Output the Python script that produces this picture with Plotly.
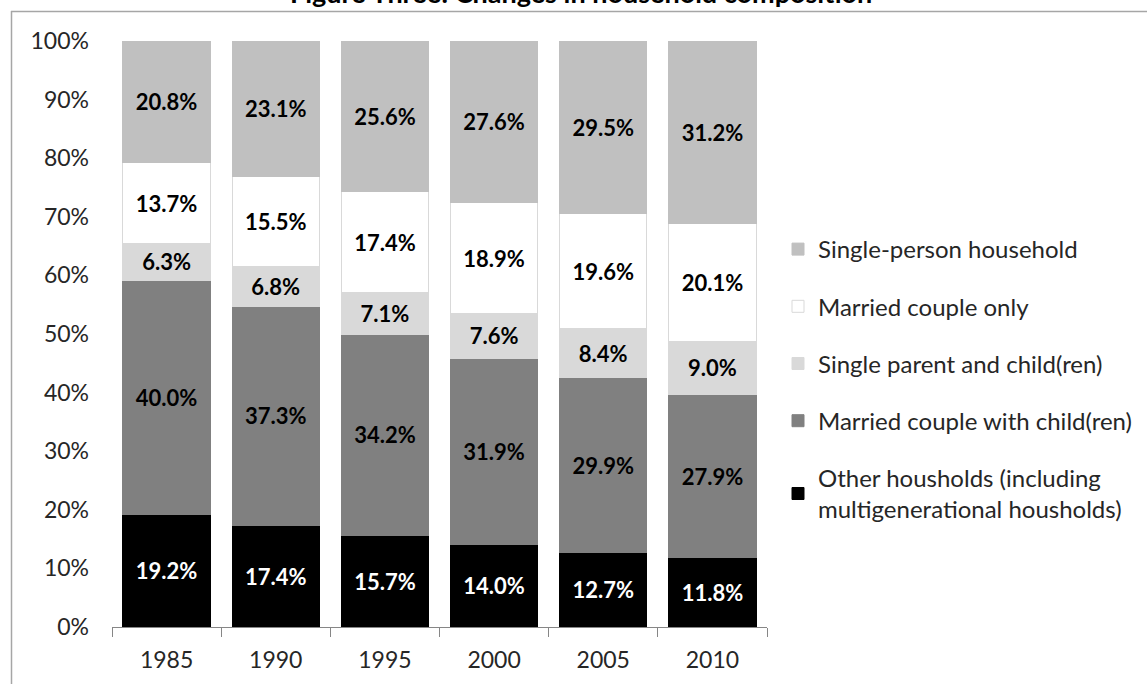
import plotly.graph_objects as go

# Household composition shares by survey year (%)
years = ["1985", "1990", "1995", "2000", "2005", "2010"]
other_households = [19.2, 17.4, 15.7, 14.0, 12.7, 11.8]
couple_with_children = [40.0, 37.3, 34.2, 31.9, 29.9, 27.9]
single_parent = [6.3, 6.8, 7.1, 7.6, 8.4, 9.0]
couple_only = [13.7, 15.5, 17.4, 18.9, 19.6, 20.1]
single_person = [20.8, 23.1, 25.6, 27.6, 29.5, 31.2]

# stacked bottom-up: (name, values, fill, label colour, outline)
series = [
    ("Other housholds (including<br>multigenerational housholds)", other_households, "#000000", "#ffffff", "#000000"),
    ("Married couple with child(ren)", couple_with_children, "#808080", "#000000", "#808080"),
    ("Single parent and child(ren)", single_parent, "#d9d9d9", "#000000", "#d9d9d9"),
    ("Married couple only", couple_only, "#ffffff", "#000000", "#d9d9d9"),
    ("Single-person household", single_person, "#c0c0c0", "#000000", "#c0c0c0"),
]

FONT = "Lato"
W, H = 1147, 684
ML, MR, MT, MB = 112, 380, 41, 57
PW, PH = W - ML - MR, H - MT - MB

fig = go.Figure()
for i, (name, vals, color, tcolor, lcolor) in enumerate(series):
    fig.add_trace(go.Bar(
        x=years, y=vals, name=name,
        marker=dict(color=color, line=dict(color=lcolor, width=1)),
        text=[f"{v:.1f}%" for v in vals],
        textposition="inside", insidetextanchor="middle",
        textfont=dict(family=FONT, size=22, color=tcolor, weight="bold"),
        constraintext="none",
        legendgroup=f"g{i}",
        legendrank=len(series) - i,
        hoverinfo="skip",
    ))


def px_x(p):
    return (p - ML) / PW


def px_y(p):
    return (H - MB - p) / PH


frame = "#a6a6a6"
fig.update_layout(
    width=W, height=H,
    barmode="stack", barnorm="percent", bargap=0.2,
    margin=dict(l=ML, r=MR, t=MT, b=MB, autoexpand=False),
    paper_bgcolor="#ffffff", plot_bgcolor="#ffffff",
    font=dict(family=FONT, size=22, color="#000000"),
    xaxis=dict(
        showline=True, linecolor="#868686", linewidth=1,
        ticks="outside", tickson="boundaries", ticklen=9, tickcolor="#868686",
        tickfont=dict(family=FONT, size=23, color="#262626"),
        ticklabelstandoff=12,
    ),
    yaxis=dict(
        range=[0, 100], dtick=10, ticksuffix="%",
        showgrid=False, zeroline=False, showline=False,
        tickfont=dict(family=FONT, size=23, color="#262626"),
        ticklabelstandoff=22,
    ),
    legend=dict(
        x=px_x(778), xanchor="left", y=px_y(227), yanchor="top",
        traceorder="grouped", tracegroupgap=23,
        font=dict(family=FONT, size=24, color="#262626"),
        bgcolor="rgba(0,0,0,0)",
    ),
    annotations=[
        dict(text="<b>Figure Three: Changes in household composition</b>",
             xref="paper", yref="paper", x=px_x(581), y=px_y(11),
             xanchor="center", yanchor="bottom", showarrow=False,
             font=dict(family=FONT, size=27, color="#000000")),
    ],
    shapes=[
        dict(type="line", xref="paper", yref="paper",
             x0=px_x(11), x1=px_x(W + 5), y0=px_y(11.5), y1=px_y(11.5),
             line=dict(color=frame, width=1.5)),
        dict(type="line", xref="paper", yref="paper",
             x0=px_x(11.5), x1=px_x(11.5), y0=px_y(11), y1=px_y(H + 5),
             line=dict(color=frame, width=1.5)),
    ],
)

fig.write_html("out.html")
